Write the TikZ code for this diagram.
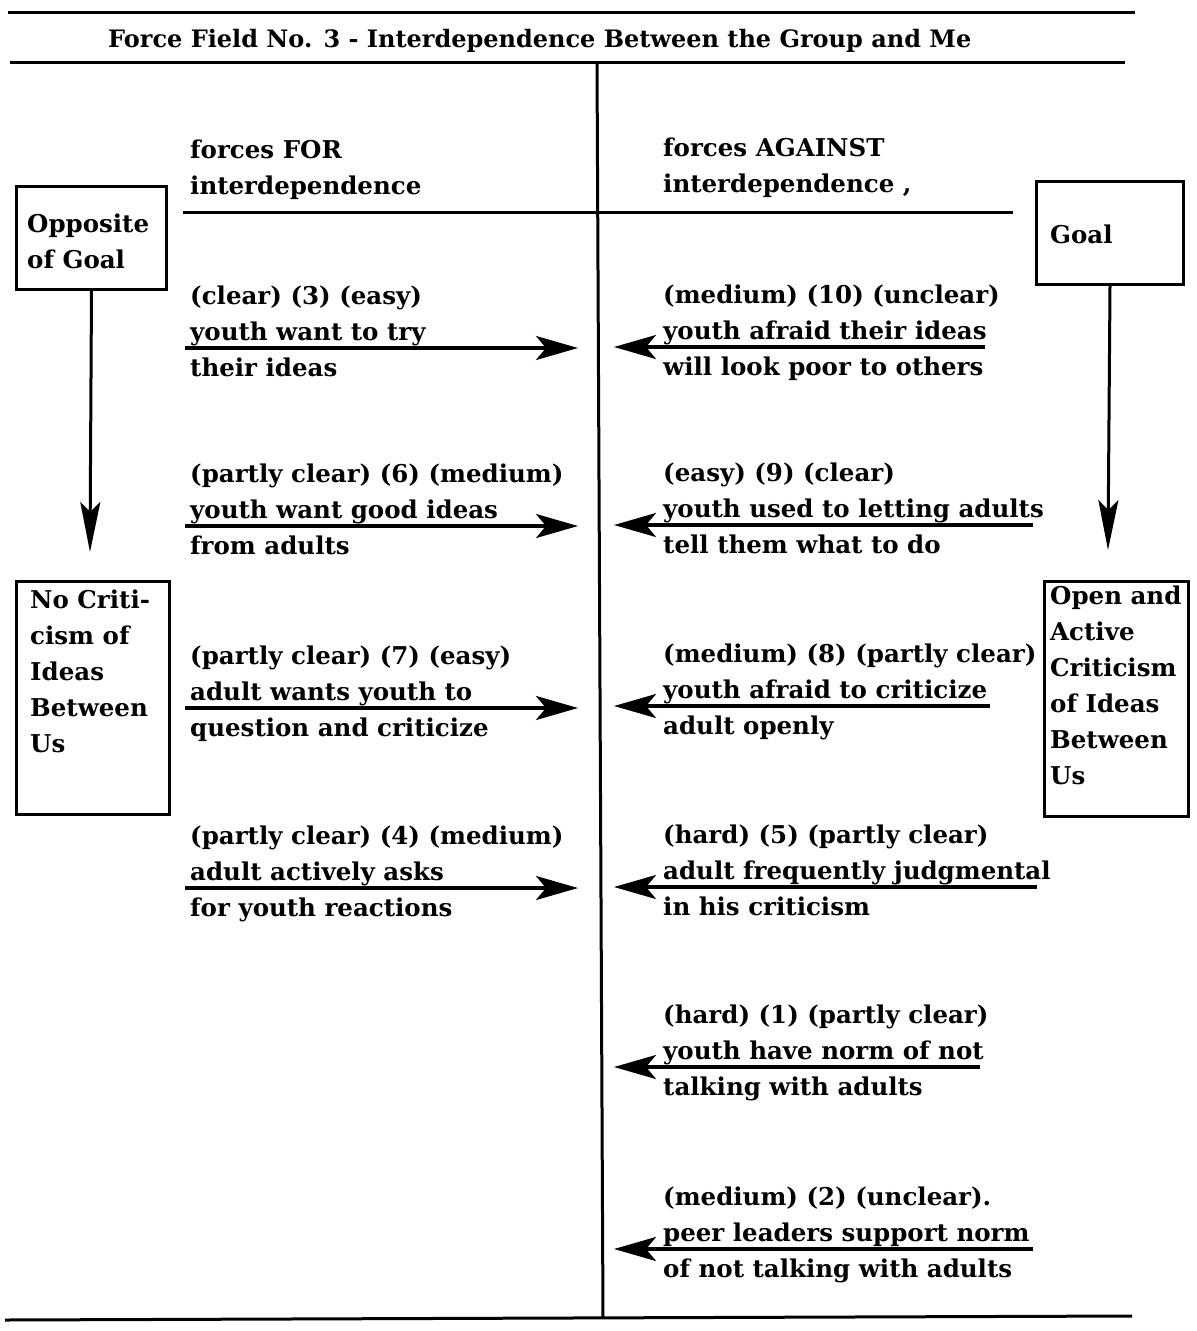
\documentclass[tikz,border=0pt]{standalone}
\usepackage{fontspec}
\setmainfont{DejaVu Serif}
\usetikzlibrary{arrows.meta}

% One force: three text lines with the arrow running under the second line.
\newcommand\forcefor[5]{%
  \node[txt] (#1-1) at (190,#2) {#3};
  \node[txt] (#1-2) at (190,#2+36) {#4};
  \node[txt] (#1-3) at (190,#2+72) {#5};
  \coordinate (#1-s) at (185,#2+44);
  \coordinate (#1-t) at (578,#2+44);
  \draw[forcearrow] (#1-s) -- (#1-t);
}
\newcommand\forceagainst[6]{%
  \node[txt] (#1-1) at (663,#2) {#4};
  \node[txt] (#1-2) at (663,#2+36) {#5};
  \node[txt] (#1-3) at (663,#2+72) {#6};
  \coordinate (#1-s) at (#3,#2+44);
  \coordinate (#1-t) at (614,#2+44);
  \draw[forcearrow] (#1-s) -- (#1-t);
}

\begin{document}
\begin{tikzpicture}[x=1pt,y=-1pt,
  txt/.style={anchor=base west, inner sep=0pt, font=\fontsize{24.5}{36}\selectfont\bfseries},
  rule/.style={line width=3pt},
  forcearrow/.style={line width=3.2pt, -{Stealth[length=42pt,width=24pt,inset=10pt]}},
  goalarrow/.style={line width=3pt, -{Stealth[length=50pt,width=20pt,inset=10pt]}},
  goalbox/.style={draw, line width=3pt, anchor=north west, inner sep=0pt}
]
\useasboundingbox[fill=white] (0,0) rectangle (1197,1331);

% frame rules
\coordinate (top-l) at (8,12);   \coordinate (top-r) at (1135,12);
\coordinate (mid-l) at (10,62);  \coordinate (mid-r) at (1125,62);
\coordinate (bot-l) at (5,1320); \coordinate (bot-r) at (1132,1316);
\coordinate (div-t) at (597,62); \coordinate (div-b) at (603,1318);
\draw[rule] (top-l) -- (top-r);
\draw[rule] (mid-l) -- (mid-r);
\draw[rule] (bot-l) -- (bot-r);
\draw[rule] (div-t) -- (div-b);

% title
\node[txt, font=\fontsize{24}{36}\selectfont\bfseries] (title) at (108,47) {Force Field No. 3 - Interdependence Between the Group and Me};

% column headings
\node[txt] (hfor-1) at (190,158) {forces FOR};
\node[txt] (hfor-2) at (190,194) {interdependence};
\node[txt] (hag-1) at (663,156) {forces AGAINST};
\node[txt] (hag-2) at (663,192) {interdependence ,};
\coordinate (head-l) at (183,212); \coordinate (head-r) at (1013,212);
\draw[rule] (head-l) -- (head-r);

% left side: opposite of goal
\node[goalbox, minimum width=150pt, minimum height=103pt] (opp) at (15,185) {};
\node[txt] (opp-1) at (27,232) {Opposite};
\node[txt] (opp-2) at (27,268) {of Goal};
\coordinate (opp-end) at (90,552);
\draw[goalarrow] (opp.south) -- (opp-end);

\node[goalbox, minimum width=153pt, minimum height=233pt] (nocrit) at (15,580) {};
\node[txt] (nocrit-1) at (30,608) {No Criti-};
\node[txt] (nocrit-2) at (30,644) {cism of};
\node[txt] (nocrit-3) at (30,680) {Ideas};
\node[txt] (nocrit-4) at (30,716) {Between};
\node[txt] (nocrit-5) at (30,752) {Us};

% right side: goal
\node[goalbox, minimum width=147pt, minimum height=103pt] (goal) at (1035,180) {};
\node[txt] (goal-1) at (1050,243) {Goal};
\coordinate (goal-end) at (1108,550);
\draw[goalarrow] (goal.south) -- (goal-end);

\node[goalbox, minimum width=144pt, minimum height=235pt] (opencrit) at (1043,580) {};
\node[txt] (opencrit-1) at (1050,604) {Open and};
\node[txt] (opencrit-2) at (1050,640) {Active};
\node[txt] (opencrit-3) at (1050,676) {Criticism};
\node[txt] (opencrit-4) at (1050,712) {of Ideas};
\node[txt] (opencrit-5) at (1050,748) {Between};
\node[txt] (opencrit-6) at (1050,784) {Us};

% forces for
\forcefor{f3}{304}{(clear) (3) (easy)}{youth want to try}{their ideas}
\forcefor{f6}{482}{(partly clear) (6) (medium)}{youth want good ideas}{from adults}
\forcefor{f7}{664}{(partly clear) (7) (easy)}{adult wants youth to}{question and criticize}
\forcefor{f4}{844}{(partly clear) (4) (medium)}{adult actively asks}{for youth reactions}

% forces against
\forceagainst{a10}{303}{985}{(medium) (10) (unclear)}{youth afraid their ideas}{will look poor to others}
\forceagainst{a9}{481}{1033}{(easy) (9) (clear)}{youth used to letting adults}{tell them what to do}
\forceagainst{a8}{662}{990}{(medium) (8) (partly clear)}{youth afraid to criticize}{adult openly}
\forceagainst{a5}{843}{1037}{(hard) (5) (partly clear)}{adult frequently judgmental}{in his criticism}
\forceagainst{a1}{1023}{980}{(hard) (1) (partly clear)}{youth have norm of not}{talking with adults}
\forceagainst{a2}{1205}{1033}{(medium) (2) (unclear).}{peer leaders support norm}{of not talking with adults}
\end{tikzpicture}
\end{document}
